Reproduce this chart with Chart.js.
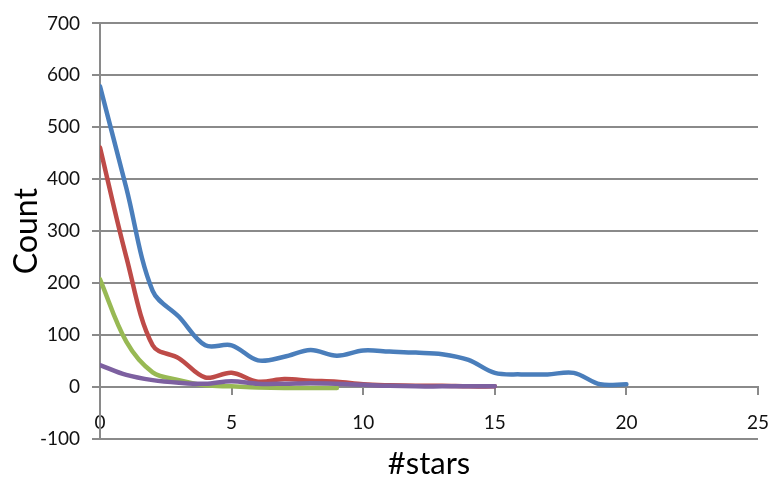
<!DOCTYPE html>
<html>
<head>
<meta charset="utf-8">
<script src="https://cdn.jsdelivr.net/npm/chart.js@4/dist/chart.umd.min.js"></script>
<style>
  html, body { margin: 0; padding: 0; background: #ffffff; }
  canvas { display: block; }
</style>
</head>
<body>
<canvas id="c" width="771" height="484"></canvas>
<script>
// ---- data ----
const starsBlue   = [0,1,2,3,4,5,6,7,8,9,10,11,12,13,14,15,16,17,18,19,20];
const countsBlue  = [579,383,185,135,80,80,51,58,71,60,70,68,66,63,52,27,24,24,27,5,5];

const starsRed    = [0,1,2,3,4,5,6,7,8,9,10,11,12,13,14,15];
const countsRed   = [461,250,80,55,18,27,10,15,12,10,5,3,2,2,1,1];

const starsGreen  = [0,1,2,3,4,5,6,7,8,9];
const countsGreen = [207,87,28,13,3,1,-1,-2,-2,-2];

const starsPurple = [0,1,2,3,4,5,6,7,8,9,10,11,12,13,14,15];
const countsPurple= [42,23,13,8,6,11,6,6,7,6,4,2,1,1,1,1];

const xTicks = [0,5,10,15,20,25];
const yTicks = [-100,0,100,200,300,400,500,600,700];

const xTitle = '#stars';
const yTitle = 'Count';

function pts(xs, ys) { return xs.map((x, i) => ({ x: x, y: ys[i] })); }

const GRID = '#8a8a8a';
const FONT = 'Lato';

new Chart(document.getElementById('c'), {
  type: 'line',
  data: {
    datasets: [
      { label: 'A', data: pts(starsBlue, countsBlue),     borderColor: '#4A7EBB', order: 3 },
      { label: 'B', data: pts(starsRed, countsRed),       borderColor: '#BE4B48', order: 2 },
      { label: 'C', data: pts(starsGreen, countsGreen),   borderColor: '#98B954', order: 1 },
      { label: 'D', data: pts(starsPurple, countsPurple), borderColor: '#7D60A0', order: 0 }
    ]
  },
  options: {
    responsive: false,
    animation: false,
    devicePixelRatio: 1,
    layout: { padding: { top: 22, left: 0, right: 13, bottom: 0 } },
    elements: {
      line: { borderWidth: 4.5, tension: 0.35, fill: false, borderCapStyle: 'round', borderJoinStyle: 'round' },
      point: { radius: 0 }
    },
    plugins: {
      legend: { display: false },
      tooltip: { enabled: false },
      title: {
        display: true,
        fullSize: false,
        text: xTitle,
        position: 'bottom',
        color: '#000',
        font: { family: FONT, size: 31, weight: 'normal' },
        padding: { top: 7, bottom: 1 }
      }
    },
    scales: {
      x: {
        type: 'linear',
        position: { y: 0 },
        min: 0, max: 25,
        afterBuildTicks: (s) => { s.ticks = xTicks.map(v => ({ value: v })); },
        afterFit: (s) => { s.height = 0; s.paddingLeft = 0; s.paddingRight = 0; },
        grid: { drawOnChartArea: false, drawTicks: true, tickLength: 7, color: GRID, lineWidth: 2 },
        border: { display: true, color: GRID, width: 2 },
        ticks: { color: '#111', font: { family: FONT, size: 19 }, padding: 18, maxRotation: 0 }
      },
      y: {
        type: 'linear',
        position: 'left',
        min: -100, max: 700,
        afterBuildTicks: (s) => { s.ticks = yTicks.map(v => ({ value: v })); },
        afterFit: (s) => { s.width = 100; },
        grid: { color: GRID, lineWidth: 2, drawTicks: true, tickLength: 8 },
        border: { display: true, color: GRID, width: 2 },
        ticks: { color: '#111', font: { family: FONT, size: 19 }, padding: 12 },
        title: {
          display: true,
          text: yTitle,
          color: '#000',
          font: { family: FONT, size: 32, weight: 'normal' },
          padding: { top: 7, bottom: 0 }
        }
      }
    }
  }
});
</script>
</body>
</html>
